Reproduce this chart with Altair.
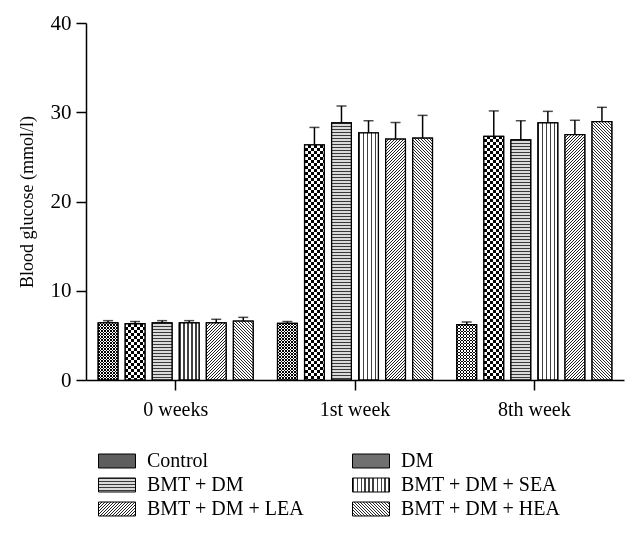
import math
import altair as alt
import pandas as pd

groups = ["0 weeks", "1st week", "8th week"]
series = ["Control", "DM", "BMT + DM", "BMT + DM + SEA", "BMT + DM + LEA", "BMT + DM + HEA"]
mean_0w = [6.4, 6.3, 6.4, 6.4, 6.4, 6.6]
mean_1w = [6.35, 26.35, 28.8, 27.7, 27.0, 27.1]
mean_8w = [6.2, 27.3, 26.9, 28.8, 27.5, 28.95]
err_0w = [0.25, 0.25, 0.25, 0.25, 0.4, 0.42]
err_1w = [0.2, 1.95, 1.9, 1.35, 1.85, 2.55]
err_8w = [0.3, 2.85, 2.15, 1.3, 1.6, 1.6]
y_ticks = [0, 10, 20, 30, 40]

rows = []
for g, means, errs in zip(groups, [mean_0w, mean_1w, mean_8w], [err_0w, err_1w, err_8w]):
    for s, m, e in zip(series, means, errs):
        rows.append({"group": g, "series": s, "mean": m, "upper": m + e})
df = pd.DataFrame(rows)

# geometry (used only for fill-pattern styling)
W, H = 538, 357
PI_X, PO_X, PI_O = 0.136, 0.068, 0.27
step_x = W / (len(groups) - PI_X + 2 * PO_X)
bw = step_x * (1 - PI_X)
bar_w = bw / (len(series) - PI_O) * (1 - PI_O)
px_per_unit = H / 40.0

FONT = "Liberation Serif, Times New Roman, serif"


def stripe_stops(L, period, c1, c2, frac):
    st = []
    i = 0
    while i * period / L < 1:
        a = i * period / L
        b = min(1.0, (i + frac) * period / L)
        c = min(1.0, (i + 1) * period / L)
        st += [(a, c1), (b, c1), (b, c2), (c, c2)]
        i += 1
    return st


def grad(kind, w, h, period, c1, c2, frac):
    if kind == "v":  # vertical lines
        coords = dict(x1=0, y1=0, x2=1, y2=0)
        st = stripe_stops(w, period, c1, c2, frac)
    elif kind == "h":  # horizontal lines
        coords = dict(x1=0, y1=0, x2=0, y2=1)
        st = stripe_stops(h, period, c1, c2, frac)
    else:
        k = (w + h) / (w * w + h * h)
        L = (w + h) / math.sqrt(2)
        p = period / math.sqrt(2)  # period given horizontally
        st = stripe_stops(L, p, c1, c2, frac)
        if kind == "fwd":  # "/" lines
            coords = dict(x1=0, y1=0, x2=w * k, y2=h * k)
        else:  # "\" lines
            coords = dict(x1=0, y1=1, x2=w * k, y2=1 - h * k)
    return coords, st


def grad_obj(kind, w, h, period, c1, c2, frac):
    coords, st = grad(kind, w, h, period, c1, c2, frac)
    return alt.LinearGradient(
        gradient="linear",
        stops=[alt.GradientStop(offset=round(o, 5), color=c) for o, c in st],
        **{k: round(v, 5) for k, v in coords.items()},
    )


def grad_expr(kind, w, h, period, c1, c2, frac):
    coords, st = grad(kind, w, h, period, c1, c2, frac)
    cs = ",".join(f"{k}:{round(v, 5)}" for k, v in coords.items())
    ss = ",".join(f"{{offset:{round(o, 5)},color:'{c}'}}" for o, c in st)
    return alt.ExprRef(expr=f"{{gradient:'linear',{cs},stops:[{ss}]}}")


# pattern definitions per series
pattern = {
    "BMT + DM": ("h", 3.0, "#3a3a3a", "#dadada", 0.4),
    "BMT + DM + SEA": ("v", 4.0, "#404040", "#ffffff", 0.3),
    "BMT + DM + LEA": ("fwd", 3.0, "#1e1e1e", "#ffffff", 0.42),
    "BMT + DM + HEA": ("bwd", 3.0, "#2a2a2a", "#ffffff", 0.4),
}
checker = {"Control": 3.0, "DM": 6.0}

LW, LH = 37, 14
legend_range = [
    "#5e5e5e",
    "#707070",
] + [grad_expr(pattern[s][0], LW, LH, *pattern[s][1:]) for s in series[2:]]

x_enc = alt.X(
    "group:N",
    sort=groups,
    scale=alt.Scale(domain=groups, paddingInner=PI_X, paddingOuter=PO_X),
    axis=alt.Axis(
        title=None, labelAngle=0, labelFont=FONT, labelFontSize=20, labelColor="black",
        labelPadding=9, tickSize=10, tickWidth=1.5, tickColor="black",
        domainColor="black", domainWidth=1.5, grid=False,
    ),
)
xo_enc = alt.XOffset(
    "series:N", sort=series, scale=alt.Scale(domain=series, paddingInner=PI_O, paddingOuter=0)
)
y_enc = alt.Y(
    "mean:Q",
    scale=alt.Scale(domain=[0, 40], nice=False),
    axis=alt.Axis(
        values=y_ticks, title="Blood glucose (mmol/l)", titleFont=FONT, titleFontSize=18,
        titleFontWeight="normal", titleColor="black", titlePadding=14,
        labelFont=FONT, labelFontSize=21, labelColor="black", labelPadding=5,
        tickSize=10, tickWidth=1.5, tickColor="black", domainColor="black",
        domainWidth=1.5, grid=False,
    ),
)

base = alt.Chart(df)

bars = base.mark_bar(stroke="black", strokeWidth=1.2).encode(
    x=x_enc,
    xOffset=xo_enc,
    y=y_enc,
    fill=alt.Fill(
        "series:N",
        sort=series,
        scale=alt.Scale(domain=series, range=legend_range),
        legend=alt.Legend(
            title=None, orient="none", legendX=12, legendY=426, columns=2,
            direction="horizontal",
            symbolType="M-1,-0.378H1V0.378H-1Z", symbolSize=LW * LW,
            symbolStrokeColor="black", symbolStrokeWidth=1, symbolOpacity=1,
            labelFont=FONT, labelFontSize=20, labelColor="black", labelOffset=11,
            labelLimit=400, columnPadding=47, rowPadding=0, clipHeight=24, padding=0,
        ),
    ),
)

layers = [bars]
for gi, g in enumerate(groups):
    for si, s in enumerate(series):
        m = [mean_0w, mean_1w, mean_8w][gi][si]
        h = m * px_per_unit
        flt = f"datum.series === '{s}' && datum.group === '{g}'"
        if s in pattern:
            kind, per, c1, c2, fr = pattern[s]
            layers.append(
                base.mark_bar(fill=grad_obj(kind, bar_w, h, per, c1, c2, fr), strokeWidth=0)
                .encode(x=x_enc, xOffset=xo_enc, y=y_enc)
                .transform_filter(flt)
            )
        else:
            per = checker[s]
            layers.append(
                base.mark_bar(fill=grad_obj("v", bar_w, h, per, "#000000", "#ffffff", 0.5), strokeWidth=0)
                .encode(x=x_enc, xOffset=xo_enc, y=y_enc)
                .transform_filter(flt)
            )
            layers.append(
                base.mark_bar(
                    fill=grad_obj("h", bar_w, h, per, "#ffffff", "#000000", 0.5),
                    strokeWidth=0, blend="difference",
                )
                .encode(x=x_enc, xOffset=xo_enc, y=y_enc)
                .transform_filter(flt)
            )

outline = base.mark_bar(filled=False, color="black", strokeWidth=1.3).encode(
    x=x_enc, xOffset=xo_enc, y=y_enc
)
err_rule = base.mark_rule(color="black", strokeWidth=1.5).encode(
    x=x_enc, xOffset=xo_enc, y=y_enc, y2="upper:Q"
)
err_cap = base.mark_tick(color="black", thickness=1.5, size=10, orient="horizontal").encode(
    x=x_enc, xOffset=xo_enc, y=alt.Y("upper:Q")
)
layers += [outline, err_rule, err_cap]

chart = (
    alt.layer(*layers)
    .properties(
        width=W,
        height=H,
        view=alt.ViewBackground(stroke="transparent", strokeWidth=0),
        autosize=alt.AutoSizeParams(type="none"),
        padding={"left": 78, "top": 15, "right": 7, "bottom": 146},
    )
    .configure_view(strokeWidth=0, stroke="transparent")
    .configure(background="white")
)

chart.save("out.html", embed_options={"renderer": "svg", "actions": False})
